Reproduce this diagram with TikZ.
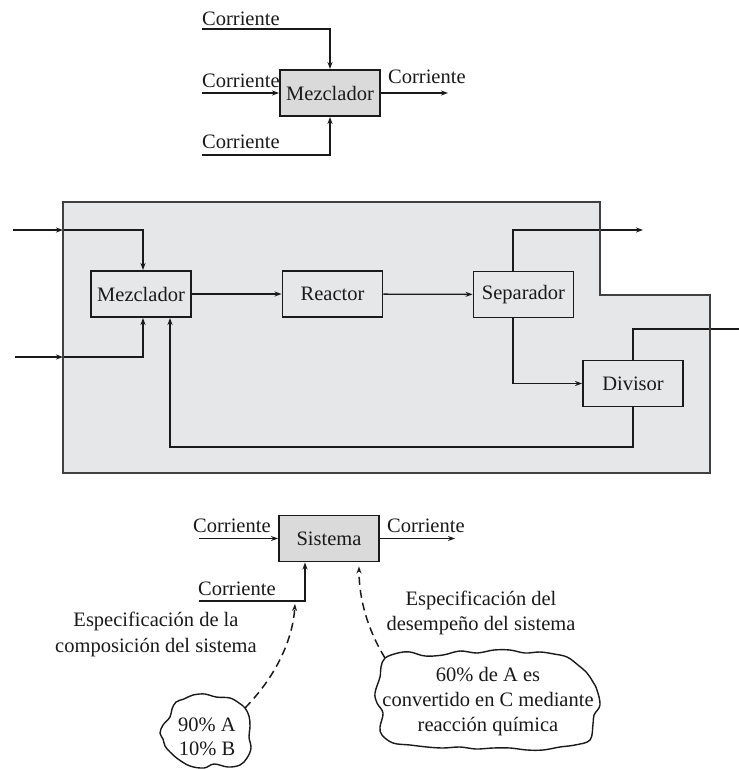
\documentclass[tikz,border=0pt]{standalone}
\usepackage{fontspec}
\setmainfont{Liberation Serif}
\newfontfamily\tms{Liberation Serif}
\usetikzlibrary{arrows.meta,calc}
\definecolor{boxgray}{HTML}{DADADA}
\definecolor{zonegray}{HTML}{E6E7E9}
\definecolor{ink}{HTML}{1A1A1A}
\definecolor{edge}{HTML}{404040}
\begin{document}
\begin{tikzpicture}[x=1pt,y=-1pt,
  font=\tms\fontsize{20.5}{25}\selectfont,
  every node/.style={text=ink},
  tip/.style={-{Stealth[length=7pt,width=5pt]}},
  flow/.style={draw=ink, line width=1.3pt, tip},
  plain/.style={draw=ink, line width=1.3pt},
  hint/.style={draw=ink, line width=1.5pt, dash pattern=on 8pt off 5pt, tip},
  unit/.style={draw=ink, line width=1.9pt, minimum width=100pt,
               minimum height=46pt, inner sep=0pt},
  lbl/.style={inner sep=0pt, anchor=base west},
  note/.style={inner sep=0pt, align=center},
  cloud/.style={draw=ink, line width=1.4pt, fill=white}]
\useasboundingbox (0,0) rectangle (739,769);

% ---------------- mixer on its own ----------------
\node[unit, fill=boxgray] (mix) at (330,93) {Mezclador};
\node[lbl] (cA) at (202,25) {Corriente};
\node[lbl] (cB) at (202,87) {Corriente};
\node[lbl] (cC) at (388,83) {Corriente};
\node[lbl] (cD) at (202,148) {Corriente};
\coordinate (mA) at (202,29);
\coordinate (mB) at (202,93);
\coordinate (mC) at (448,93);
\coordinate (mD) at (202,155);
\draw[flow] (mA) -| (mix.north);
\draw[flow] (mB) -- (mix.west);
\draw[flow] (mix.east) -- (mC);
\draw[flow] (mD) -| (mix.south);

% ---------------- process with recycle ----------------
\fill[zonegray] (63,202) -- (600,202) -- (600,295) -- (710,295)
  -- (710,473) -- (63,473) -- cycle;

\node[unit] (mz) at (141,294) {Mezclador};
\node[unit] (re) at (332.5,294) {Reactor};
\node[unit] (sp) at (523.5,294.5) {Separador};
\node[unit] (dv) at (633,383.5) {Divisor};

\coordinate (f1) at (13,230);
\coordinate (b1) at (63,230);
\coordinate (f2) at (15,357);
\coordinate (b2) at (63,357);
\coordinate (top) at (643,230);
\coordinate (purge) at (739,329);
\coordinate (rc) at (170,447);

\draw[flow] (f1) -- (b1);
\draw[flow] (b1) -| ($(mz.north)+(2,0)$);
\draw[flow] (f2) -- (b2);
\draw[flow] (b2) -| ($(mz.south)+(2,0)$);
\draw[flow] (mz) -- (re);
\draw[flow] (re) -- (sp);
\draw[flow] ($(sp.north)+(-10.5,0)$) |- (top);
\draw[flow] ($(sp.south)+(-10.5,0)$) |- (dv.west);
\draw[plain] (dv.north) |- (purge);
\draw[flow] (dv.south) |- (rc) -- ($(mz.south)+(29,0)$);

% outline of the process envelope, drawn over the streams
\draw[edge, line width=1.5pt] (63,202) -- (600,202) -- (600,295)
  -- (710,295) -- (710,473) -- (63,473) -- cycle;

% ---------------- system with specifications ----------------
\node[unit, fill=boxgray] (sys) at (329,538.5) {Sistema};
\node[lbl] (sA) at (193,532) {Corriente};
\node[lbl] (sB) at (387,532) {Corriente};
\node[lbl] (sC) at (198,595) {Corriente};
\coordinate (pA) at (199,538.5);
\coordinate (pB) at (455,538.5);
\coordinate (pC) at (199,601);
\draw[flow] (pA) -- (sys.west);
\draw[flow] (sys.east) -- (pB);
\draw[flow] (pC) -| ($(sys.south)+(-24,0)$);

\node[note, font=\tms\fontsize{20.5}{26}\selectfont] (specA) at (156,634) {Especificación de la\\composición del sistema};
\node[note] (specB) at (481,612.5) {Especificación del\\desempeño del sistema};

% composition cloud
\draw[cloud] plot[smooth cycle, tension=0.6] coordinates {
  (193,695) (205,694) (216,697) (230,698) (239,703) (245,708)
  (249,716) (250,726) (249,737) (251,748) (247,758) (240,765)
  (228,767) (214,764) (204,768) (190,766) (178,759) (170,752)
  (165,746) (163,739) (160,733) (163,725) (170,717) (172,709)
  (176,702) (184,699)};
\node[note, font=\tms\fontsize{20.5}{24}\selectfont] (compo) at (207,737) {90\% A\\10\% B};
\coordinate (cA1) at (245,708);

% performance cloud
\draw[cloud] plot[smooth cycle, tension=0.6] coordinates {
  (385,658) (398,653) (410,652) (425,656) (443,655) (460,651)
  (477,653) (494,650) (510,650) (525,653) (540,652) (554,654)
  (567,657) (578,665) (587,673) (593,682) (597,690) (600,705)
  (594,715) (593,724) (590,740) (575,745) (560,747) (543,750)
  (527,750) (510,748) (493,748) (476,749) (460,747) (443,748)
  (427,747) (410,745) (393,743) (382,735) (380,727) (383,713)
  (377,703) (375,693) (380,677) (381,667)};
\node[note] (perf) at (488,702) {60\% de A es\\convertido en C mediante\\reacción química};
\coordinate (cB1) at (385,658);

\draw[hint] (cA1) .. controls (280,672) and (293,635) .. (295,604);
\draw[hint] (cB1) .. controls (368,630) and (359,600) .. ($(sys.south)+(30,4)$);
\end{tikzpicture}
\end{document}
